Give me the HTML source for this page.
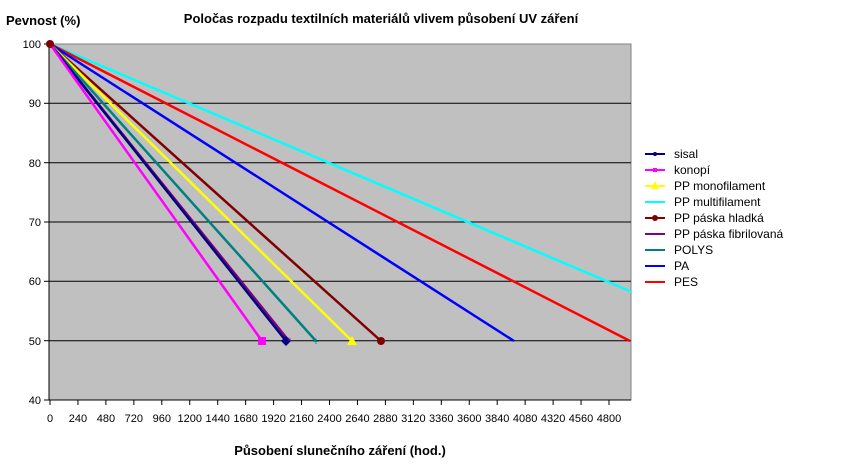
<!DOCTYPE html>
<html><head><meta charset="utf-8"><style>
html,body{margin:0;padding:0;background:#fff;width:849px;height:468px;overflow:hidden}
svg text{font-family:"Liberation Sans",Arial,sans-serif}
</style></head><body>
<svg width="849" height="468" viewBox="0 0 849 468" xmlns="http://www.w3.org/2000/svg">
<defs><clipPath id="c"><rect x="49" y="34" width="582" height="367"/></clipPath></defs>
<text x="6" y="25" font-size="13" font-weight="bold">Pevnost (%)</text>
<text x="381" y="23" font-size="13" font-weight="bold" text-anchor="middle">Poločas rozpadu textilních materiálů vlivem působení UV záření</text>
<rect x="49" y="44" width="582" height="356" fill="#c0c0c0" stroke="#808080" stroke-width="1"/>
<g stroke="#000" stroke-width="1">
<line x1="49" y1="103.3" x2="631" y2="103.3"/>
<line x1="49" y1="162.7" x2="631" y2="162.7"/>
<line x1="49" y1="222" x2="631" y2="222"/>
<line x1="49" y1="281.3" x2="631" y2="281.3"/>
<line x1="49" y1="340.7" x2="631" y2="340.7"/>
<line x1="49" y1="44" x2="49" y2="400"/>
<line x1="49" y1="400" x2="631" y2="400"/>
</g>
<g stroke="#000" stroke-width="1">
<line x1="44" y1="44" x2="49" y2="44"/><line x1="44" y1="103.3" x2="49" y2="103.3"/><line x1="44" y1="162.7" x2="49" y2="162.7"/><line x1="44" y1="222" x2="49" y2="222"/><line x1="44" y1="281.3" x2="49" y2="281.3"/><line x1="44" y1="340.7" x2="49" y2="340.7"/><line x1="44" y1="400" x2="49" y2="400"/>
</g>
<g font-size="11" text-anchor="end">
<text x="41" y="48">100</text><text x="41" y="107">90</text><text x="41" y="167">80</text><text x="41" y="226">70</text><text x="41" y="285">60</text><text x="41" y="345">50</text><text x="41" y="404">40</text>
</g>
<g id="xt" stroke="#000"></g>
<g font-size="11" text-anchor="middle" id="xl"></g>
<script>
var xt=document.getElementById('xt'),xl=document.getElementById('xl'),ns='http://www.w3.org/2000/svg';
for(var i=0;i<=20;i++){var x=50+i*27.95;var l=document.createElementNS(ns,'line');l.setAttribute('x1',x);l.setAttribute('x2',x);l.setAttribute('y1',400);l.setAttribute('y2',405);xt.appendChild(l);
var t=document.createElementNS(ns,'text');t.setAttribute('x',x);t.setAttribute('y',422);t.textContent=i*240;xl.appendChild(t);}
</script>
<text x="340" y="455" font-size="13" font-weight="bold" text-anchor="middle">Působení slunečního záření (hod.)</text>
<g clip-path="url(#c)" stroke-width="2.5" fill="none">
<line x1="50" y1="44" x2="640" y2="295.4" stroke="#00ffff"/>
<line x1="50" y1="44" x2="630" y2="341" stroke="#ff0000"/>
<line x1="50" y1="44" x2="514" y2="341" stroke="#0000ff"/>
<line x1="50" y1="44" x2="381" y2="341" stroke="#800000"/>
<line x1="50" y1="44" x2="352" y2="341" stroke="#ffff00"/>
<line x1="50" y1="44" x2="316" y2="341" stroke="#008080"/>
<line x1="50" y1="44" x2="289" y2="341" stroke="#800080"/>
<line x1="50" y1="44" x2="286" y2="341" stroke="#000080"/>
<line x1="50" y1="44" x2="262" y2="341" stroke="#ff00ff"/>
</g>
<rect x="258" y="337" width="8" height="8" fill="#ff00ff"/>
<polygon points="286,336 291,341 286,346 281,341" fill="#000080"/>
<text x="289" y="345" font-size="11" fill="#800080" text-anchor="middle">*</text>
<text x="316" y="345" font-size="11" fill="#008080" text-anchor="middle">+</text>
<polygon points="352,336 357,345 347,345" fill="#ffff00"/>
<circle cx="381" cy="341" r="4" fill="#800000"/>
<circle cx="50" cy="44" r="4" fill="#800000"/>
<g font-size="12">
<line x1="645" y1="154" x2="665" y2="154" stroke="#000080" stroke-width="2"/><circle cx="655" cy="154" r="2" fill="#000080"/><text x="674" y="158">sisal</text>
<line x1="645" y1="170" x2="665" y2="170" stroke="#ff00ff" stroke-width="2"/><rect x="653" y="168" width="4" height="4" fill="#ff00ff"/><text x="674" y="174">konopí</text>
<line x1="645" y1="186" x2="665" y2="186" stroke="#ffff00" stroke-width="2"/><polygon points="655,181 659,189 651,189" fill="#ffff00"/><text x="674" y="190">PP monofilament</text>
<line x1="645" y1="202" x2="665" y2="202" stroke="#00ffff" stroke-width="2"/><text x="674" y="206">PP multifilament</text>
<line x1="645" y1="218" x2="665" y2="218" stroke="#800000" stroke-width="2"/><circle cx="655" cy="218" r="3" fill="#800000"/><text x="674" y="222">PP páska hladká</text>
<line x1="645" y1="234" x2="665" y2="234" stroke="#800080" stroke-width="2"/><text x="674" y="238">PP páska fibrilovaná</text>
<line x1="645" y1="250" x2="665" y2="250" stroke="#008080" stroke-width="2"/><text x="674" y="254">POLYS</text>
<line x1="645" y1="266" x2="665" y2="266" stroke="#0000ff" stroke-width="2"/><text x="674" y="270">PA</text>
<line x1="645" y1="282" x2="665" y2="282" stroke="#ff0000" stroke-width="2"/><text x="674" y="286">PES</text>
</g>
</svg>
</body></html>
